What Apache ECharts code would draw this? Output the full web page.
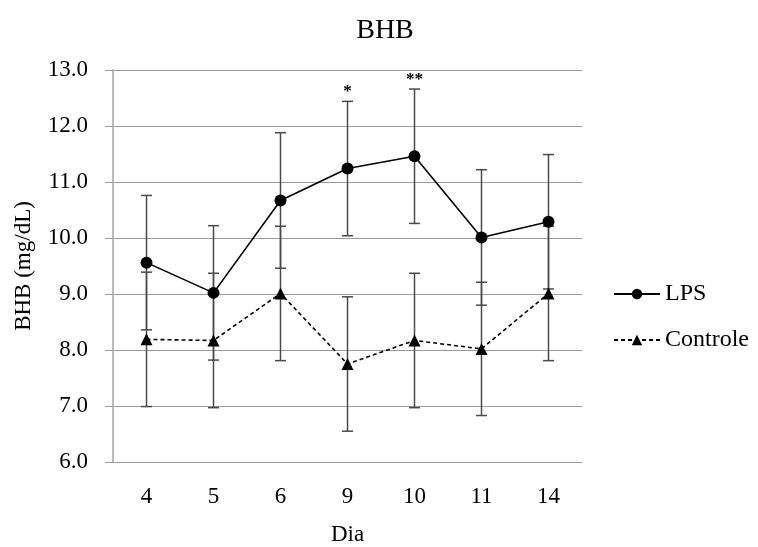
<!DOCTYPE html>
<html>
<head>
<meta charset="utf-8">
<script src="https://cdn.jsdelivr.net/npm/echarts@6/dist/echarts.min.js"></script>
<style>html,body{margin:0;padding:0;background:#fff}#c{width:758px;height:547px}</style>
</head>
<body>
<div id="c"></div>
<script>
var days = ['4', '5', '6', '9', '10', '11', '14'];
var lps = [9.56, 9.02, 10.67, 11.24, 11.46, 10.01, 10.29];
var lpsErr = [1.2, 1.2, 1.21, 1.2, 1.2, 1.21, 1.2];
var controle = [8.19, 8.17, 9.01, 7.75, 8.17, 8.02, 9.01];
var controleErr = [1.2, 1.2, 1.2, 1.2, 1.2, 1.19, 1.2];
var signif = ['', '', '', '*', '**', '', ''];
var yTicks = [6, 7, 8, 9, 10, 11, 12, 13];

var FONT = '"Liberation Serif", "Times New Roman", serif';

function errData(vals, errs, marks) {
  return vals.map(function (v, i) {
    return [i, v - errs[i], v + errs[i], marks ? marks[i] : ''];
  });
}

function errRender(params, api) {
  var i = api.value(0);
  var lo = api.coord([i, api.value(1)]);
  var hi = api.coord([i, api.value(2)]);
  var hw = 5.5;
  var st = { stroke: '#4a4a4a', lineWidth: 1.5 };
  var children = [
    { type: 'line', shape: { x1: lo[0], y1: lo[1], x2: hi[0], y2: hi[1] }, style: st },
    { type: 'line', shape: { x1: lo[0] - hw, y1: lo[1], x2: lo[0] + hw, y2: lo[1] }, style: st },
    { type: 'line', shape: { x1: hi[0] - hw, y1: hi[1], x2: hi[0] + hw, y2: hi[1] }, style: st }
  ];
  var txt = api.value(3);
  if (txt) {
    children.push({
      type: 'text',
      style: {
        text: txt, x: hi[0], y: hi[1] - 1, align: 'center', verticalAlign: 'bottom',
        font: 'bold 17px ' + FONT, fill: '#000'
      }
    });
  }
  return { type: 'group', children: children };
}

var chart = echarts.init(document.getElementById('c'), null, { renderer: 'canvas' });
chart.setOption({
  animation: false,
  backgroundColor: '#fff',
  textStyle: { fontFamily: FONT },
  title: {
    text: 'BHB', left: 380, top: 12, textAlign: 'center',
    textStyle: { fontFamily: FONT, fontSize: 28, fontWeight: 'normal', color: '#000' }
  },
  grid: { left: 113, right: 176, top: 70, bottom: 85, containLabel: false, outerBoundsMode: 'none' },
  legend: {
    orient: 'vertical', left: 608, top: 277, itemWidth: 46, itemHeight: 13, itemGap: 22,
    textStyle: { fontFamily: FONT, fontSize: 24, color: '#000' },
    data: ['LPS', 'Controle']
  },
  xAxis: {
    type: 'category', data: days, boundaryGap: true,
    name: 'Dia', nameLocation: 'middle', nameGap: 61,
    nameTextStyle: { fontFamily: FONT, fontSize: 23, color: '#000' },
    axisLine: { show: false },
    axisTick: { show: false },
    axisLabel: { margin: 23, fontFamily: FONT, fontSize: 23, color: '#000' }
  },
  yAxis: {
    type: 'value', min: 6, max: 13, interval: 1,
    name: 'BHB (mg/dL)', nameLocation: 'middle', nameGap: 78,
    nameTextStyle: { fontFamily: FONT, fontSize: 23, color: '#000' },
    axisLine: { show: true, lineStyle: { color: '#bbb', width: 2 } },
    axisTick: { show: true, length: 8, lineStyle: { color: '#999', width: 1 } },
    axisLabel: {
      margin: 25, fontFamily: FONT, fontSize: 23, color: '#000',
      formatter: function (v) { return yTicks.indexOf(v) >= 0 ? v.toFixed(1) : ''; }
    },
    splitLine: { show: true, lineStyle: { color: '#9a9a9a', width: 1 } }
  },
  series: [
    {
      name: 'LPS', type: 'line', data: lps, z: 3,
      symbol: 'circle', symbolSize: 12,
      lineStyle: { color: '#000', width: 1.6 },
      itemStyle: { color: '#000' }
    },
    {
      name: 'Controle', type: 'line', data: controle, z: 3,
      symbol: 'triangle', symbolSize: 12,
      lineStyle: { color: '#000', width: 1.6, type: [4, 3] },
      itemStyle: { color: '#000' }
    },
    {
      name: 'LPSerr', type: 'custom', data: errData(lps, lpsErr, signif), z: 2,
      renderItem: errRender, encode: { x: 0, y: [1, 2] }, silent: true
    },
    {
      name: 'CtrlErr', type: 'custom', data: errData(controle, controleErr, null), z: 2,
      renderItem: errRender, encode: { x: 0, y: [1, 2] }, silent: true
    }
  ]
});
</script>
</body>
</html>
